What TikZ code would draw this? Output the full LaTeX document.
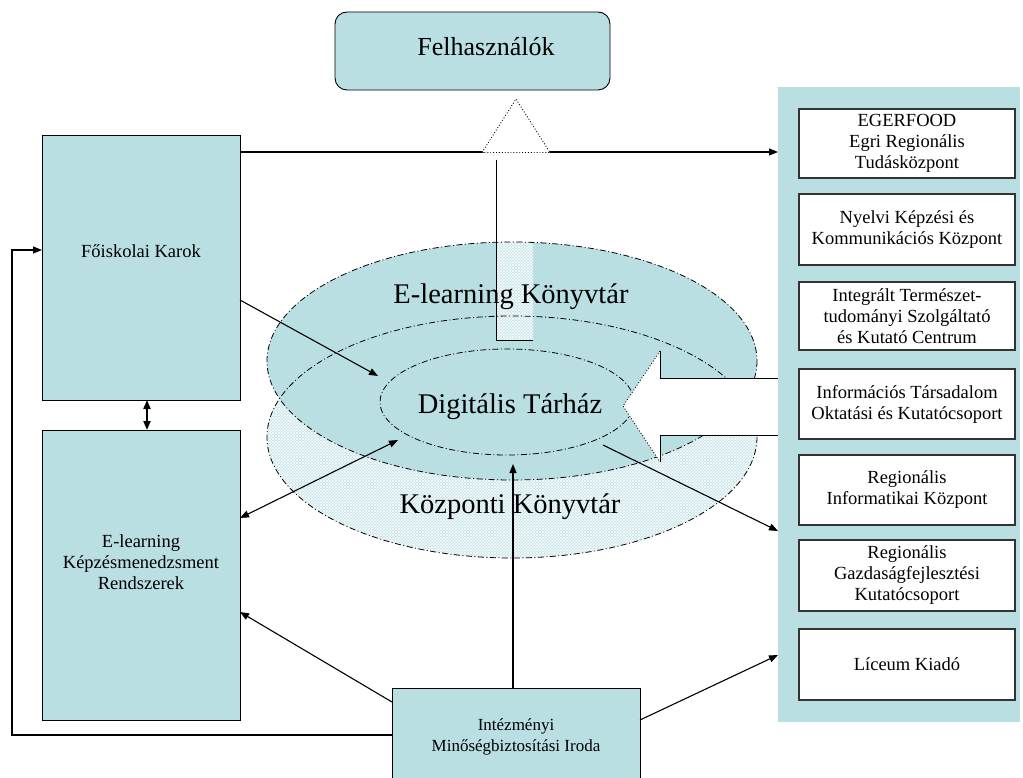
\documentclass[tikz,border=0pt]{standalone}
\usepackage{fontspec}
\setmainfont{Liberation Serif}
\usetikzlibrary{arrows.meta,shapes.geometric,patterns,calc}
\definecolor{tealc}{RGB}{185,223,227}
\begin{document}
\begin{tikzpicture}[x=1pt,y=-1pt,
  every node/.style={inner sep=0pt, outer sep=0pt},
  tealbox/.style={draw=black, line width=0.9pt, fill=tealc},
  rbox/.style={draw=black!80, line width=1.3pt, fill=white, minimum width=216pt, align=center, font=\fontsize{18.5}{21}\selectfont},
  smalltext/.style={align=center, font=\fontsize{18.5}{21}\selectfont},
  bigtext/.style={font=\fontsize{28.5}{30}\selectfont, anchor=base},
  dd/.style={dash pattern=on 6pt off 2.5pt on 1pt off 2.5pt, line width=0.8pt},
  hatch/.style={fill=tealc!90!white, postaction={pattern=crosshatch, pattern color=white}},
  arr/.style={-{Triangle[length=9pt,width=7pt]}, line width=1.1pt},
  darr/.style={{Triangle[length=9pt,width=7pt]}-{Triangle[length=9pt,width=7pt]}, line width=1.1pt}]
\useasboundingbox (0,0) rectangle (1023,778);
\clip (0,0) rectangle (1023,778);
\fill[white] (0,0) rectangle (1023,778);

% --- ellipses ---
\node[ellipse, minimum width=490pt, minimum height=242pt, hatch] (low) at (512,437) {};
\node[ellipse, minimum width=490pt, minimum height=238pt, fill=tealc] (up) at (512,361) {};
\begin{scope}
  \clip (512,361) ellipse [x radius=245, y radius=119];
  \path[hatch] (496,150) rectangle (533,340);
\end{scope}
\draw[dd] (512,437) ellipse [x radius=245, y radius=121];
\draw[dd] (512,361) ellipse [x radius=245, y radius=119];
\node[ellipse, dd, draw, minimum width=254pt, minimum height=106pt] (dt) at (507,402) {};

% upward block arrow shaft edges
\draw[line width=1pt] (496,160) -- (496,340) -- (533,340);

% --- hollow arrow from right panel ---
\fill[white] (778,378) -- (660,378) -- (660,351) -- (623,406) -- (660,462) -- (660,435) -- (778,435) -- cycle;
\draw[line width=1pt] (778,378) -- (660,378) -- (660,351);
\draw[line width=1pt] (778,435) -- (660,435) -- (660,462);
\draw[dotted, line width=0.9pt] (660,351) -- (623,406) -- (660,462);

% --- big texts ---
\node[bigtext] (elk) at (511,303) {E-learning Könyvtár};
\node[bigtext] (dtt) at (510,413) {Digitális Tárház};
\node[bigtext] (kk) at (510,513) {Központi Könyvtár};

% --- boxes ---
\node[tealbox, rounded corners=12pt, minimum width=275pt, minimum height=78pt] (felh) at (472.5,51) {};
\node[font=\fontsize{26}{28}\selectfont, anchor=base] (felht) at (486,56) {Felhasználók};
\node[tealbox, minimum width=198pt, minimum height=265pt] (fk) at (141,267.5) {};
\node[smalltext] (fkt) at (141,251) {Főiskolai Karok};
\node[tealbox, minimum width=198pt, minimum height=290pt] (el) at (141,575) {};
\node[smalltext] (elt) at (141,562) {E-learning\\Képzésmenedzsment\\Rendszerek};
\node[tealbox, minimum width=248pt, minimum height=94pt] (ikm) at (516,735) {};
\node[smalltext, font=\fontsize{17}{21}\selectfont] (ikmt) at (516,737) {Intézményi\\Minőségbiztosítási Iroda};

\node[fill=tealc, minimum width=242pt, minimum height=635pt] (panel) at (899,404.5) {};
\node[rbox, minimum height=69pt] (b1) at (907,143.5) {EGERFOOD\\Egri Regionális\\Tudásközpont};
\node[rbox, minimum height=71pt] (b2) at (907,229.5) {Nyelvi Képzési és\\Kommunikációs Központ};
\node[rbox, minimum height=68pt] (b3) at (907,316) {Integrált Természet-\\tudományi Szolgáltató\\és Kutató Centrum};
\node[rbox, minimum height=70pt] (b4) at (907,404) {Információs Társadalom\\Oktatási és Kutatócsoport};
\node[rbox, minimum height=70pt] (b5) at (907,490) {Regionális\\Informatikai Központ};
\node[rbox, minimum height=71pt] (b6) at (907,575.5) {Regionális\\Gazdaságfejlesztési\\Kutatócsoport};
\node[rbox, minimum height=71pt] (b7) at (907,664.5) {Líceum Kiadó};

% --- connectors ---
\draw[arr] ($(fk.north east)+(0,17)$) -- ($(panel.north west)+(0,65)$);
\draw[white, line width=2pt] (484,152) -- (548,152);
\draw[dotted, line width=0.9pt, fill=white] (482,152.5) -- (516,99) -- (550,152.5) -- cycle;

\coordinate (dtl) at (378,376);
\coordinate (dtll) at (398,440);
\coordinate (dtr) at (603,445);
\coordinate (dtb) at (513,464);
\coordinate (lc) at (12,250);
\draw[arr] ($(fk.north east)+(0,165)$) -- (dtl);
\draw[darr] ($(el.north east)+(0,88)$) -- (dtll);
\draw[arr] (dtr) -- ($(panel.north west)+(0,444)$);
\draw[arr] ($(ikm.north)+(-3,0)$) -- (dtb);
\draw[arr] ($(ikm.north west)+(0,14)$) -- ($(el.north east)+(0,182)$);
\draw[arr] ($(ikm.north east)+(0,32)$) -- ($(panel.north west)+(0,568)$);
\draw[arr] ($(ikm.north west)+(0,47)$) -| (lc) -- (lc -| fk.west);
\draw[darr, line width=2pt] ($(fk.south)+(6,0)$) -- ($(el.north)+(6,0)$);
\end{tikzpicture}
\end{document}
